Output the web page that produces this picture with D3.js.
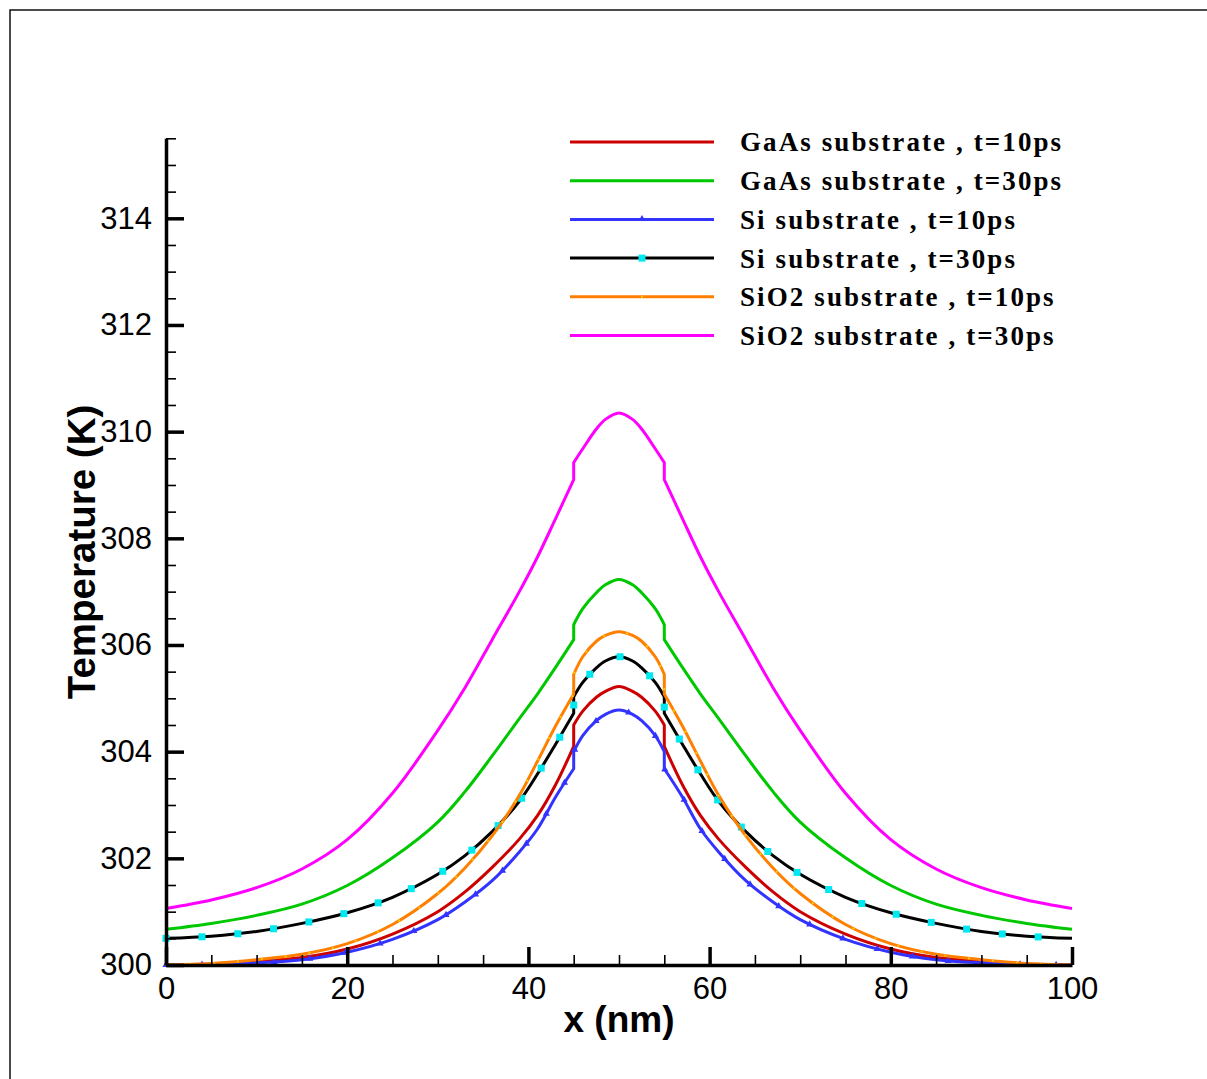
<!DOCTYPE html>
<html><head><meta charset="utf-8">
<script src="https://cdn.jsdelivr.net/npm/d3@7"></script>
<style>body{margin:0;background:#fff} svg{display:block}</style>
</head><body>
<script>
// x positions (nm); x=45 and x=55 appear twice (step at the heated-region boundary)
const xValues = [0,5,10,15,20,25,30,33,36,39,41,43,45,45,46,47.5,48.5,50,51.5,52.5,54,55,55,57,59,61,64,67,70,75,80,85,90,95,100];

const gaas10 = [300.00,300.02,300.07,300.14,300.30,300.58,301.00,301.37,301.83,302.36,302.80,303.38,304.10,304.50,304.76,305.02,305.13,305.22,
                305.13,305.02,304.76,304.50,304.10,303.38,302.80,302.36,301.83,301.37,301.00,300.58,300.30,300.14,300.07,300.02,300.00];
const gaas30 = [300.67,300.78,300.93,301.14,301.49,302.01,302.68,303.25,303.92,304.62,305.08,305.58,306.10,306.38,306.68,306.98,307.13,307.23,
                307.13,306.98,306.68,306.38,306.10,305.58,305.08,304.62,303.92,303.25,302.68,302.01,301.49,301.14,300.93,300.78,300.67];
const si10   = [300.00,300.01,300.04,300.10,300.24,300.48,300.85,301.18,301.58,302.12,302.55,303.15,303.68,304.00,304.30,304.58,304.70,304.78,
                304.70,304.58,304.30,304.00,303.68,303.15,302.55,302.12,301.58,301.18,300.85,300.48,300.24,300.10,300.04,300.01,300.00];
const si30   = [300.50,300.54,300.63,300.78,300.98,301.27,301.70,302.05,302.50,303.07,303.58,304.14,304.72,305.03,305.30,305.57,305.70,305.78,
                305.70,305.57,305.30,305.03,304.72,304.14,303.58,303.07,302.50,302.05,301.70,301.27,300.98,300.78,300.63,300.54,300.50];
const sio210 = [300.00,300.03,300.10,300.20,300.40,300.76,301.34,301.82,302.42,303.18,303.82,304.48,305.08,305.45,305.78,306.07,306.18,306.25,
                306.18,306.07,305.78,305.45,305.08,304.48,303.82,303.18,302.42,301.82,301.34,300.76,300.40,300.20,300.10,300.03,300.00];
const sio230 = [301.06,301.22,301.45,301.80,302.35,303.22,304.40,305.20,306.10,307.00,307.65,308.37,309.10,309.42,309.68,310.05,310.23,310.35,
                310.23,310.05,309.68,309.42,309.10,308.37,307.65,307.00,306.10,305.20,304.40,303.22,302.35,301.80,301.45,301.22,301.06];

const seriesNames = ["GaAs substrate , t=10ps","GaAs substrate , t=30ps","Si substrate , t=10ps","Si substrate , t=30ps","SiO2 substrate , t=10ps","SiO2 substrate , t=30ps"];
const seriesValues = [gaas10, gaas30, si10, si30, sio210, sio230];
const seriesColors = ["#cc0000","#00c800","#3333ff","#000000","#ff8000","#ff00ff"];
const seriesMarkers = ["none","none","triangle","square","dot","none"];

const yMajorTicks = [300,302,304,306,308,310,312,314];
const yTickLabels = ["300","302","304","306","308","310","312","314"];
const xMajorTicks = [0,20,40,60,80,100];
const xTickLabels = ["0","20","40","60","80","100"];

const W = 1207, H = 1079;
const svg = d3.select("body").append("svg").attr("width", W).attr("height", H);

// outer frame
svg.append("rect").attr("x",10).attr("y",10).attr("width",1240).attr("height",1120)
  .attr("fill","none").attr("stroke","#111").attr("stroke-width",1.5);

const x = d3.scaleLinear().domain([0,100]).range([166,1072]);
const y = d3.scaleLinear().domain([300,315.5]).range([965,138.3]);

const segLine = d3.line().x(d=>x(d.x)).y(d=>y(d.y)).curve(d3.curveCatmullRom.alpha(0.5));
// split the series where x repeats (the step), draw each smooth piece, join with straight steps
function pathFor(data) {
  const segs = [[data[0]]];
  for (let j = 1; j < data.length; j++) {
    if (data[j].x === data[j-1].x) segs.push([data[j]]);
    else segs[segs.length-1].push(data[j]);
  }
  return segs.map((s, k) => {
    const d = segLine(s);
    return k === 0 ? d : "L" + d.slice(1);
  }).join("");
}

// curves
const plot = svg.append("g");
seriesValues.forEach((vals, i) => {
  const data = xValues.map((xv, j) => ({x: xv, y: vals[j]}));
  const path = plot.append("path").attr("d", pathFor(data))
    .attr("fill","none").attr("stroke", seriesColors[i]).attr("stroke-width",3)
    .attr("stroke-linejoin","round");
  const node = path.node();
  const len = node.getTotalLength();
  const m = seriesMarkers[i];
  if (m === "square") {
    for (let l = 0; l <= len; l += 36) {
      const p = node.getPointAtLength(l);
      plot.append("rect").attr("x", p.x-3.5).attr("y", p.y-3.5).attr("width",7).attr("height",7).attr("fill","#00e8f0");
    }
  } else if (m === "triangle") {
    for (let l = 0; l <= len; l += 36) {
      const p = node.getPointAtLength(l);
      plot.append("path").attr("d", d3.symbol(d3.symbolTriangle, 22)()).attr("transform",`translate(${p.x},${p.y})`).attr("fill", seriesColors[i]);
    }
  } else if (m === "dot") {
    for (let l = 0; l <= len; l += 24) {
      const p = node.getPointAtLength(l);
      plot.append("circle").attr("cx", p.x).attr("cy", p.y).attr("r",1.1).attr("fill","#ffd000");
    }
  }
});

// axes
const font = "'Liberation Sans', Arial, sans-serif";
const yMinor = d3.range(300, 315.51, 0.5).filter(v => Math.abs(v - Math.round(v/2)*2) > 1e-6);
const xMinor = d3.range(0, 100.1, 5).filter(v => v % 20 !== 0);

const yAxis = svg.append("g").attr("transform","translate(166,0)")
  .call(d3.axisLeft(y).tickValues(yMajorTicks).tickSizeInner(-18).tickSizeOuter(0).tickPadding(14)
        .tickFormat((d,i)=>yTickLabels[i]));
yAxis.select(".domain").attr("stroke","#000").attr("stroke-width",3.5);
yAxis.selectAll(".tick line").attr("stroke-width",3.5);
yAxis.selectAll("text").attr("font-family",font).attr("font-size",31).attr("fill","#000");
const yAxisMinor = svg.append("g").attr("transform","translate(166,0)")
  .call(d3.axisLeft(y).tickValues(yMinor).tickSizeInner(-10).tickSizeOuter(0).tickFormat(""));
yAxisMinor.select(".domain").remove();
yAxisMinor.selectAll(".tick line").attr("stroke-width",1.6);

const xAxis = svg.append("g").attr("transform","translate(0,965)")
  .call(d3.axisBottom(x).tickValues(xMajorTicks).tickSizeInner(-18).tickSizeOuter(0).tickPadding(12)
        .tickFormat((d,i)=>xTickLabels[i]));
xAxis.select(".domain").attr("stroke","#000").attr("stroke-width",3.5);
xAxis.selectAll(".tick line").attr("stroke-width",3.5);
xAxis.selectAll("text").attr("font-family",font).attr("font-size",31).attr("fill","#000");
const xAxisMinor = svg.append("g").attr("transform","translate(0,965)")
  .call(d3.axisBottom(x).tickValues(xMinor).tickSizeInner(-10).tickSizeOuter(0).tickFormat(""));
xAxisMinor.select(".domain").remove();
xAxisMinor.selectAll(".tick line").attr("stroke-width",1.6);

// axis titles
svg.append("text").attr("x", 619).attr("y", 1032).attr("text-anchor","middle")
  .attr("font-family",font).attr("font-weight","bold").attr("font-size",37).text("x (nm)");
svg.append("text").attr("transform","translate(95,552) rotate(-90)").attr("text-anchor","middle")
  .attr("font-family",font).attr("font-weight","bold").attr("font-size",38.5).text("Temperature (K)");

// legend
const leg = svg.append("g");
seriesNames.forEach((name, i) => {
  const ry = 142 + i*38.7;
  leg.append("line").attr("x1",570).attr("x2",714).attr("y1",ry).attr("y2",ry)
    .attr("stroke",seriesColors[i]).attr("stroke-width",3);
  const m = seriesMarkers[i];
  if (m === "square") leg.append("rect").attr("x",638.5).attr("y",ry-3.5).attr("width",7).attr("height",7).attr("fill","#00e8f0");
  if (m === "triangle") leg.append("path").attr("d", d3.symbol(d3.symbolTriangle, 14)()).attr("transform",`translate(642,${ry-1})`).attr("fill",seriesColors[i]);
  if (m === "dot") leg.append("circle").attr("cx",642).attr("cy",ry).attr("r",1.1).attr("fill","#ffd000");
  leg.append("text").attr("x",740).attr("y",ry).attr("dy","0.35em")
    .attr("font-family","'Liberation Serif','Times New Roman',serif").attr("font-weight","bold")
    .attr("font-size",27).attr("letter-spacing","2.1px").attr("fill","#000").text(name);
});
</script>
</body></html>
